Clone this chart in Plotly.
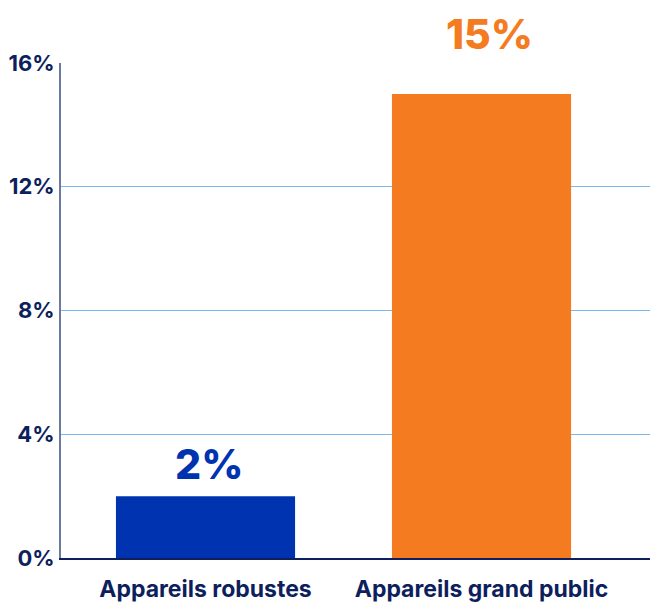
import plotly.graph_objects as go

categories = ["Appareils robustes", "Appareils grand public"]
values = [2, 15]
bar_labels = ["2%", "15%"]
colors = ["#0033b0", "#f47b20"]
label_colors = ["#0033b0", "#f47b20"]
y_ticks = [0, 4, 8, 12, 16]
y_tick_labels = ["0%", "4%", "8%", "12%", "16%"]

NAVY = "#0d1f5c"
FONT = "Inter"

fig = go.Figure()
fig.add_trace(go.Bar(
    x=[0, 1], y=values, width=0.649,
    marker=dict(color=colors, line=dict(width=0)),
    hoverinfo="skip",
))

label_yshift = [5, 33]
label_xshift = [3, 8]
for i, (v, t, c) in enumerate(zip(values, bar_labels, label_colors)):
    fig.add_annotation(x=i, y=v, text=t, showarrow=False, yanchor="bottom",
                       yshift=label_yshift[i], xshift=label_xshift[i],
                       font=dict(family=FONT, size=41, color=c, weight=800))

fig.update_layout(
    width=650, height=603,
    margin=dict(l=61, r=0, t=63, b=45),
    plot_bgcolor="white", paper_bgcolor="white",
    showlegend=False,
    xaxis=dict(
        range=[-0.5236, 1.6105],
        tickvals=[0, 1], ticktext=categories,
        tickfont=dict(family=FONT, size=23, color=NAVY, weight=700),
        showgrid=False, zeroline=False,
        showline=True, linecolor=NAVY, linewidth=2,
        ticks="", ticklabelstandoff=9, automargin=False,
    ),
    yaxis=dict(
        range=[0, 16],
        tickvals=y_ticks, ticktext=y_tick_labels,
        tickfont=dict(family=FONT, size=22, color=NAVY, weight=700),
        showgrid=True, gridcolor="#7ab8ec", gridwidth=1,
        zeroline=False,
        showline=True, linecolor="#6b7aa1", linewidth=2,
        ticks="", ticklabelstandoff=0, automargin=False,
    ),
)

fig.write_html(
    "out.html",
    config={"displayModeBar": False},
    post_script="document.body.style.margin='0';document.body.style.overflow='hidden';",
)
